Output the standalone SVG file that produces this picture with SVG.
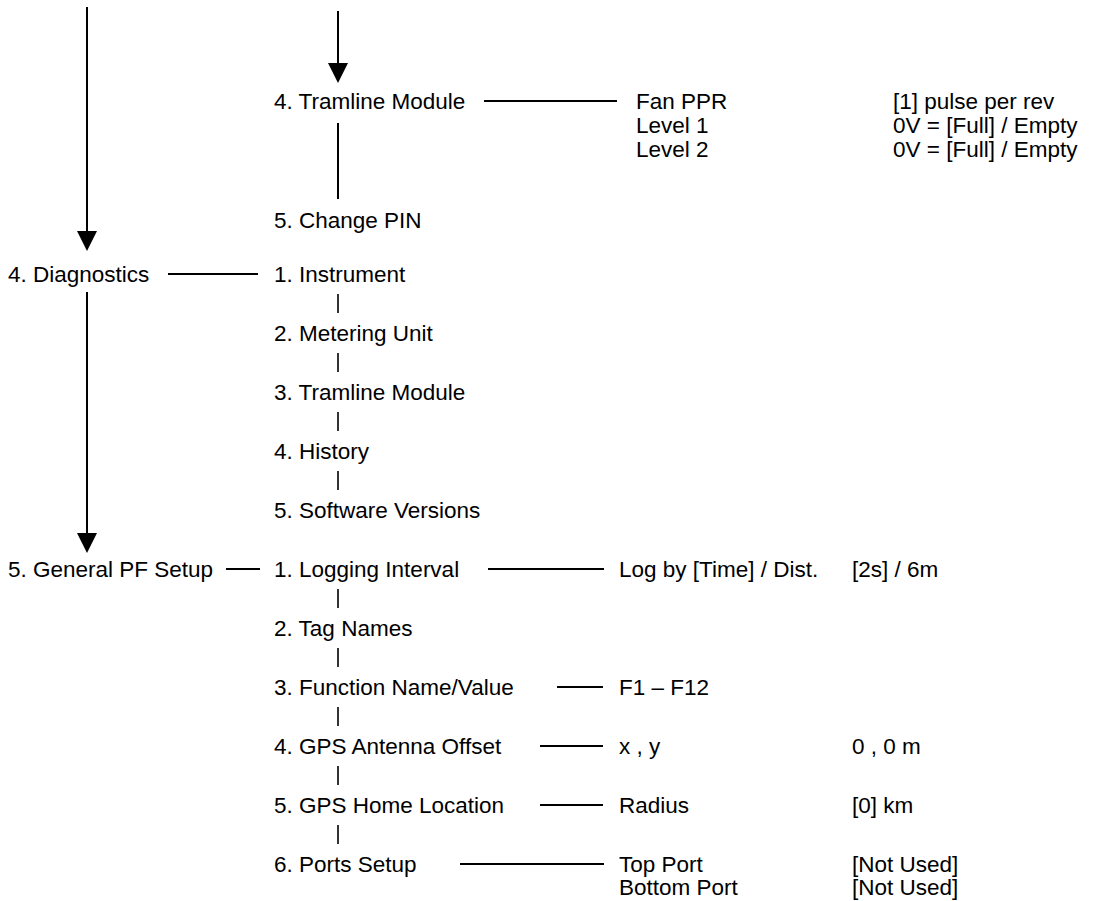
<svg xmlns="http://www.w3.org/2000/svg" width="1115" height="901" viewBox="0 0 1115 901">
<style>
text{font-family:"Liberation Sans",Arial,Helvetica,sans-serif;font-size:22.5px;fill:#000}
.ln{stroke:#000;stroke-width:2;fill:none}
.tk{stroke:#000;stroke-width:1.6;fill:none}
.ah{fill:#000}
</style>
<rect width="1115" height="901" fill="#fff"/>
<g id="connectors">
<line class="ln" x1="87" y1="7" x2="87" y2="233"/>
<polygon class="ah" points="77,231 97,231 87,251"/>
<line class="ln" x1="338" y1="11" x2="338" y2="65"/>
<polygon class="ah" points="328,63 348,63 338,83"/>
<line class="ln" x1="338" y1="123" x2="338" y2="199"/>
<line class="ln" x1="484" y1="101" x2="617" y2="101"/>
<line class="ln" x1="168" y1="274" x2="258" y2="274"/>
<line class="ln" x1="87" y1="292" x2="87" y2="535"/>
<polygon class="ah" points="77,533 97,533 87,553"/>
<line class="tk" x1="338" y1="294" x2="338" y2="313"/>
<line class="tk" x1="338" y1="353" x2="338" y2="372"/>
<line class="tk" x1="338" y1="412" x2="338" y2="431"/>
<line class="tk" x1="338" y1="471" x2="338" y2="490"/>
<line class="ln" x1="226" y1="569" x2="260" y2="569"/>
<line class="ln" x1="488" y1="569" x2="604" y2="569"/>
<line class="tk" x1="338" y1="589" x2="338" y2="608"/>
<line class="tk" x1="338" y1="648" x2="338" y2="667"/>
<line class="tk" x1="338" y1="707" x2="338" y2="726"/>
<line class="tk" x1="338" y1="766" x2="338" y2="785"/>
<line class="tk" x1="338" y1="825" x2="338" y2="844"/>
<line class="ln" x1="557" y1="687" x2="603" y2="687"/>
<line class="ln" x1="540" y1="746" x2="603" y2="746"/>
<line class="ln" x1="540" y1="805" x2="603" y2="805"/>
<line class="ln" x1="460" y1="864" x2="604" y2="864"/>
</g>
<g id="n-tramline4"><text x="274" y="109">4. Tramline Module</text></g>
<g id="n-fanppr"><text x="636" y="109">Fan PPR</text><text x="893" y="109">[1] pulse per rev</text></g>
<g id="n-level1"><text x="636" y="133">Level 1</text><text x="893" y="133">0V = [Full] / Empty</text></g>
<g id="n-level2"><text x="636" y="157">Level 2</text><text x="893" y="157">0V = [Full] / Empty</text></g>
<g id="n-changepin"><text x="274" y="228">5. Change PIN</text></g>
<g id="n-diagnostics"><text x="8" y="282">4. Diagnostics</text></g>
<g id="n-instrument"><text x="274" y="282">1. Instrument</text></g>
<g id="n-metering"><text x="274" y="341">2. Metering Unit</text></g>
<g id="n-tramline3"><text x="274" y="400">3. Tramline Module</text></g>
<g id="n-history"><text x="274" y="459">4. History</text></g>
<g id="n-software"><text x="274" y="518">5. Software Versions</text></g>
<g id="n-general"><text x="8" y="577">5. General PF Setup</text></g>
<g id="n-logging"><text x="274" y="577">1. Logging Interval</text></g>
<g id="n-logby"><text x="619" y="577">Log by [Time] / Dist.</text><text x="852" y="577">[2s] / 6m</text></g>
<g id="n-tagnames"><text x="274" y="636">2. Tag Names</text></g>
<g id="n-function"><text x="274" y="695">3. Function Name/Value</text></g>
<g id="n-f1f12"><text x="619" y="695">F1 – F12</text></g>
<g id="n-gpsoffset"><text x="274" y="754">4. GPS Antenna Offset</text></g>
<g id="n-xy"><text x="619" y="754">x , y</text><text x="852" y="754">0 , 0 m</text></g>
<g id="n-gpshome"><text x="274" y="813">5. GPS Home Location</text></g>
<g id="n-radius"><text x="619" y="813">Radius</text><text x="852" y="813">[0] km</text></g>
<g id="n-ports"><text x="274" y="872">6. Ports Setup</text></g>
<g id="n-topport"><text x="619" y="872">Top Port</text><text x="852" y="872">[Not Used]</text></g>
<g id="n-bottomport"><text x="619" y="895">Bottom Port</text><text x="852" y="895">[Not Used]</text></g>
</svg>
